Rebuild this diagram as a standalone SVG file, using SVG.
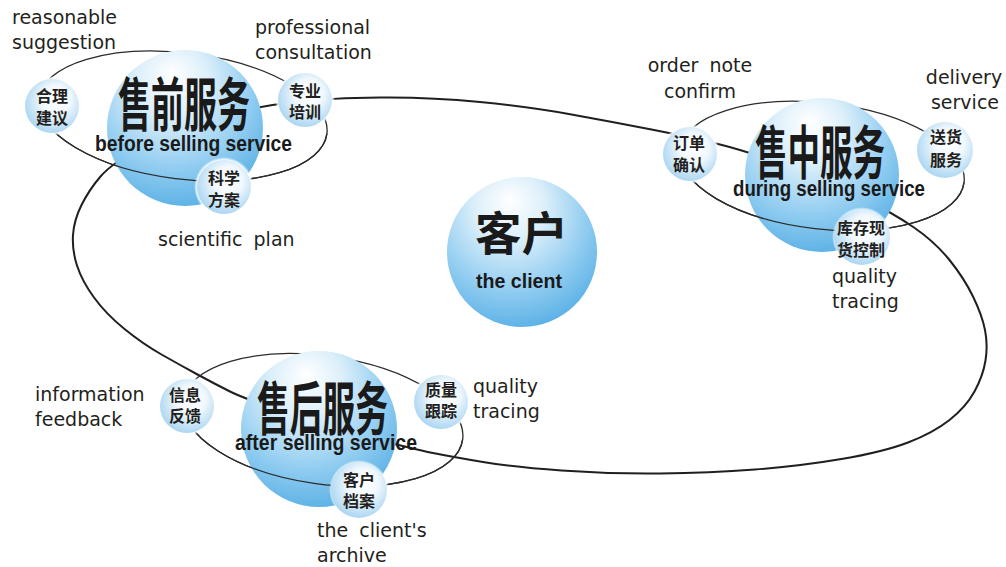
<svg xmlns="http://www.w3.org/2000/svg" width="1006" height="567" viewBox="0 0 1006 567">
<defs>
  <radialGradient id="bigGrad" cx="0.42" cy="0.3" r="0.78" fx="0.42" fy="0.15">
    <stop offset="0" stop-color="#ffffff"/>
    <stop offset="0.3" stop-color="#dceffa"/>
    <stop offset="0.65" stop-color="#92cdf1"/>
    <stop offset="1" stop-color="#4fabe3"/>
  </radialGradient>
  <radialGradient id="smallGrad" cx="0.55" cy="0.42" r="0.6" fx="0.6" fy="0.35">
    <stop offset="0" stop-color="#ffffff"/>
    <stop offset="0.45" stop-color="#f1f8fd"/>
    <stop offset="1" stop-color="#a9d5f1"/>
  </radialGradient>
  <radialGradient id="halo">
    <stop offset="0.9" stop-color="#ffffff" stop-opacity="1"/>
    <stop offset="1" stop-color="#ffffff" stop-opacity="0"/>
  </radialGradient>
  <clipPath id="lowerHalf"><rect x="-200" y="0" width="400" height="120"/></clipPath>
  <style>
    .loop{fill:none;stroke:#1f1f1f;stroke-width:2}
    .orbit{fill:none;stroke:#2b2b2b;stroke-width:1.3}
    .big{fill:url(#bigGrad)}
    .halo{fill:url(#halo)}
    .small{fill:url(#smallGrad)}
    .title{font-family:"Noto Sans CJK SC",sans-serif;font-weight:bold;font-size:58px;fill:#1a1a1a}
    .sub{font-family:"Liberation Sans",Arial,sans-serif;font-weight:bold;font-size:22px;fill:#1a1a1a}
    .cn{font-family:"Noto Sans CJK SC",sans-serif;font-weight:bold;font-size:16px;fill:#231f20;text-anchor:middle}
    .lbl{font-family:"DejaVu Sans",sans-serif;font-size:19px;fill:#231f20;word-spacing:5px}
    .mid{text-anchor:middle}
  </style>
</defs>
<rect width="1006" height="567" fill="#ffffff"/>

<g id="connectors">
  <path class="loop" d="M 380,97.5 Q 430,97 480,102 Q 530,107 571.5,114.5 Q 613,122 651.5,129.5 Q 690,137 720,144.5 Q 750,152 790,167 Q 830,182 861.5,197.5 Q 893,213 914,227.5 Q 935,242 949.5,260 Q 964,278 973,296.5 Q 982,315 985,330 Q 988,345 985.5,360.5 Q 983,376 974.5,391.5 Q 966,407 949.5,420 Q 933,433 908,442.5 Q 883,452 841.5,459 Q 800,466 755,469.5 Q 710,473 660,473.5 Q 610,474 561.5,470.5 Q 513,467 483,462 Q 453,457 433,453 Q 413,449 371.5,438 Q 330,427 287.5,413 Q 245,399 230,391.5 Q 215,384 197.5,374.5 Q 180,365 161.5,354.5 Q 143,344 124.5,329 Q 106,314 94,297.5 Q 82,281 77,265.5 Q 72,250 73,235 Q 74,220 81.5,205 Q 89,190 100.5,176.5 Q 112,163 146,144 Q 180,125 220,115.5 Q 260,106 295,102 Q 330,98 380,97.5 Z"/>
  <g transform="translate(183,116) rotate(7)"><ellipse class="orbit" rx="145" ry="63"/></g>
  <g transform="translate(822,166) rotate(6.5)"><ellipse class="orbit" rx="143" ry="63"/></g>
  <g transform="translate(323,420) rotate(8)"><ellipse class="orbit" rx="141" ry="64"/></g>
</g>

<g id="node-client">
  <circle class="big" cx="522" cy="252" r="75"/>
  <text class="title" x="475" y="250" font-size="46" textLength="93" lengthAdjust="spacingAndGlyphs" style="font-size:46px">客户</text>
  <text class="sub" x="476" y="288" textLength="86" lengthAdjust="spacingAndGlyphs" style="font-size:20px">the client</text>
</g>

<g id="node-before-bg"><circle class="big" cx="185" cy="128" r="78"/></g>
<g id="node-during-bg"><circle class="big" cx="822" cy="175" r="77"/></g>
<g id="node-after-bg"><circle class="big" cx="319" cy="429" r="78"/></g>

<g id="connectors-front">
  <g transform="translate(183,116) rotate(7)"><ellipse class="orbit" rx="145" ry="63" clip-path="url(#lowerHalf)"/></g>
  <g transform="translate(822,166) rotate(6.5)"><ellipse class="orbit" rx="143" ry="63" clip-path="url(#lowerHalf)"/></g>
  <g transform="translate(323,420) rotate(8)"><ellipse class="orbit" rx="141" ry="64" clip-path="url(#lowerHalf)"/></g>
</g>

<g id="node-before">
  <text class="title" x="118" y="126" textLength="132" lengthAdjust="spacingAndGlyphs">售前服务</text>
  <text class="sub" x="95" y="151" textLength="197" lengthAdjust="spacingAndGlyphs">before selling service</text>
</g>
<g id="node-during">
  <text class="title" x="755" y="174" textLength="130" lengthAdjust="spacingAndGlyphs">售中服务</text>
  <text class="sub" x="733" y="196" textLength="192" lengthAdjust="spacingAndGlyphs">during selling service</text>
</g>
<g id="node-after">
  <text class="title" x="257" y="430" textLength="131" lengthAdjust="spacingAndGlyphs">售后服务</text>
  <text class="sub" x="235" y="450" textLength="182" lengthAdjust="spacingAndGlyphs">after selling service</text>
</g>

<g id="node-suggestion">
  <circle class="halo" cx="52" cy="106" r="30"/><circle class="small" cx="52" cy="106" r="27"/>
  <text class="cn" x="52" y="102">合理</text><text class="cn" x="52" y="124">建议</text>
</g>
<g id="node-consultation">
  <circle class="halo" cx="305" cy="100" r="30"/><circle class="small" cx="305" cy="100" r="27"/>
  <text class="cn" x="305" y="97">专业</text><text class="cn" x="305" y="118">培训</text>
</g>
<g id="node-plan">
  <circle class="halo" cx="224" cy="187" r="30"/><circle class="small" cx="224" cy="187" r="27"/>
  <text class="cn" x="224" y="184">科学</text><text class="cn" x="224" y="206">方案</text>
</g>
<g id="node-order">
  <circle class="halo" cx="690" cy="154" r="30"/><circle class="small" cx="690" cy="154" r="27"/>
  <text class="cn" x="689" y="149">订单</text><text class="cn" x="689" y="171">确认</text>
</g>
<g id="node-delivery">
  <circle class="halo" cx="945" cy="150" r="30"/><circle class="small" cx="945" cy="150" r="28"/>
  <text class="cn" x="946" y="143">送货</text><text class="cn" x="946" y="166">服务</text>
</g>
<g id="node-stock">
  <circle class="halo" cx="862" cy="237" r="30"/><circle class="small" cx="862" cy="237" r="28"/>
  <text class="cn" x="861" y="234">库存现</text><text class="cn" x="861" y="256">货控制</text>
</g>
<g id="node-feedback">
  <circle class="halo" cx="187" cy="406" r="30"/><circle class="small" cx="187" cy="406" r="27"/>
  <text class="cn" x="185" y="401">信息</text><text class="cn" x="185" y="422">反馈</text>
</g>
<g id="node-quality">
  <circle class="halo" cx="441" cy="402" r="30"/><circle class="small" cx="441" cy="402" r="27"/>
  <text class="cn" x="441" y="396">质量</text><text class="cn" x="441" y="417">跟踪</text>
</g>
<g id="node-archive">
  <circle class="halo" cx="359" cy="490" r="30"/><circle class="small" cx="359" cy="490" r="28"/>
  <text class="cn" x="359" y="486">客户</text><text class="cn" x="359" y="507">档案</text>
</g>

<g id="labels">
  <text class="lbl" x="12" y="24">reasonable</text>
  <text class="lbl" x="12" y="49">suggestion</text>
  <text class="lbl" x="255" y="34">professional</text>
  <text class="lbl" x="255" y="59">consultation</text>
  <text class="lbl" x="158" y="246">scientific plan</text>
  <text class="lbl mid" x="700" y="72">order note</text>
  <text class="lbl mid" x="700" y="98">confirm</text>
  <text class="lbl mid" x="964" y="84">delivery</text>
  <text class="lbl mid" x="965" y="109">service</text>
  <text class="lbl" x="832" y="283">quality</text>
  <text class="lbl" x="832" y="308">tracing</text>
  <text class="lbl" x="35" y="401">information</text>
  <text class="lbl" x="35" y="426">feedback</text>
  <text class="lbl" x="473" y="393">quality</text>
  <text class="lbl" x="473" y="418">tracing</text>
  <text class="lbl" x="317" y="537">the client's</text>
  <text class="lbl" x="317" y="562">archive</text>
</g>
</svg>
